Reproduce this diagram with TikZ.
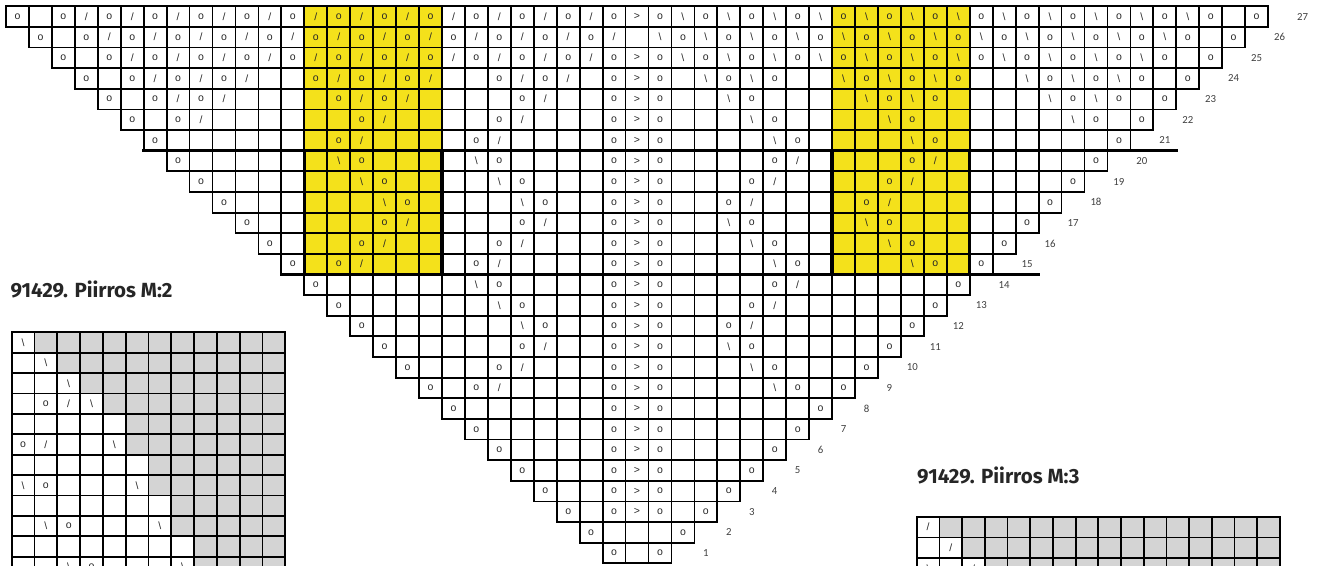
\documentclass[tikz,border=0pt]{standalone}
\usepackage{fontspec}
\setmainfont{Liberation Sans}
\newfontfamily\numfont{Carlito}
\newfontfamily\headfont{Fira Sans}
\usepackage{tikz}
\usepackage{xcolor}
\definecolor{motif}{RGB}{244,225,27}
\definecolor{unused}{RGB}{212,212,212}
\newcommand{\ktsym}{/}
\newcommand{\sksym}{\textbackslash}
% one stitch on the left half and its mirror on the right half
\newcommand{\stitchpair}[4]{%
  \pgfmathtruncatemacro{\kcol}{#2}%
  \pgfmathtruncatemacro{\kmir}{54-(#2)}%
  \node[sym] (k-#1-\kcol) at (\kcol+0.5,#1-0.5) {#3};
  \node[sym] (k-#1-\kmir) at (\kmir+0.5,#1-0.5) {#4};
}
\newcommand{\yover}[2]{\stitchpair{#1}{#2}{o}{o}}
\newcommand{\ktwotog}[2]{\stitchpair{#1}{#2}{\ktsym}{\sksym}}
\newcommand{\sskdec}[2]{\stitchpair{#1}{#2}{\sksym}{\ktsym}}
\tikzset{
  cell/.style      ={draw=black, line width=1.8pt},
  repeatline/.style={draw=black, line width=3.4pt, line cap=rect},
  sym/.style       ={font=\fontsize{10.5}{10.5}\selectfont, inner sep=0pt, text=black!85},
  rownum/.style    ={font=\numfont\fontsize{10.8}{10.8}\selectfont, inner sep=0pt, text=black!75},
  headline/.style  ={font=\headfont\bfseries\fontsize{20.5}{20.5}\selectfont, anchor=west, inner sep=0pt, text=black!85},
}

\begin{document}
\begin{tikzpicture}[x=22.945pt, y=20.63pt]
  \useasboundingbox (-0.2615,-0.082) rectangle (57.35,27.305);
  % yellow panels
  \fill[motif] (13,14) rectangle (19,27);
  \fill[motif] (36,14) rectangle (42,27);
  % triangle of cells, row r runs from column 27-r to 27+r
  \foreach \r [evaluate=\r as \a using int(27-\r), evaluate=\r as \b using int(27+\r)] in {1,...,27}
    \foreach \c in {\a,...,\b}
      \draw[cell] (\c,\r-1) rectangle ++(1,1);
  % repeat frame
  \draw[repeatline] (6,20) -- (51,20);
  \draw[repeatline] (12,14) -- (45,14);
  \foreach \x in {13,19,36,42} \draw[repeatline] (\x,14) -- (\x,20);
  % row numbers
  \foreach \r in {1,...,27} \node[rownum] (n\r) at (\r+29.5,\r-0.5) {\r};

  % rows 27-21
  \foreach \c in {0,2,...,26} {\yover{27}{\c}}
  \foreach \c in {3,5,...,25} {\ktwotog{27}{\c}}
  \foreach \c in {1,3,...,25} {\yover{26}{\c}}
  \foreach \c in {4,6,...,26} {\ktwotog{26}{\c}}
  \foreach \c in {2,4,...,26} {\yover{25}{\c}}
  \foreach \c in {5,7,...,25} {\ktwotog{25}{\c}}
  \foreach \c in {3,5,7,9,13,15,17,21,23,26} {\yover{24}{\c}}
  \foreach \c in {6,8,10,14,16,18,22,24} {\ktwotog{24}{\c}}
  \foreach \c in {4,6,8,14,16,22,26} {\yover{23}{\c}}
  \foreach \c in {7,9,15,17,23} {\ktwotog{23}{\c}}
  \foreach \c in {5,7,15,21,26} {\yover{22}{\c}}
  \foreach \c in {8,16,22} {\ktwotog{22}{\c}}
  \foreach \c in {6,14,20,26} {\yover{21}{\c}}
  \foreach \c in {15,21} {\ktwotog{21}{\c}}
  % rows 20-1: edges and centre
  \foreach \r [evaluate=\r as \e using int(27-\r)] in {1,...,20} {\yover{\r}{\e}}
  \foreach \r in {3,...,20} {\yover{\r}{26}}
  \foreach \r in {3,...,25,27} \node[sym] (k-\r-27) at (27.5,\r-0.5) {>};
  % diamonds
  \foreach \r/\c in {20/14,20/20,19/15,19/21,18/16,18/22,14/20,13/21,12/22}
    {\sskdec{\r}{\c} \yover{\r}{\c+1}}
  \foreach \r/\c in {17/16,17/22,16/15,16/21,15/14,15/20,11/22,10/21,9/20}
    {\yover{\r}{\c} \ktwotog{\r}{\c+1}}

  \begin{scope}
    \clip (-0.2615,-0.082) rectangle (57.35,27.305);
    % chart M:2
    \node[headline] (head2) at (0.19,13.296) {91429. Piirros M:2};
    \begin{scope}[shift={(0.248,11.197)}, x=22.8pt, y=20.4pt]
      \foreach \k/\w in {0/0,1/1,2/2,3/3,4/4,5/4,6/5,7/5,8/6,9/6,10/7,11/7}
        \fill[unused] (\w+1,-\k-1) rectangle (12,-\k);
      \foreach \k in {0,...,11} \foreach \c in {0,...,11}
        \draw[cell] (\c,-\k-1) rectangle ++(1,1);
      \foreach \k/\c/\t in {0/0/\sksym,1/1/\sksym,2/2/\sksym,3/1/o,3/2/\ktsym,3/3/\sksym,
          5/0/o,5/1/\ktsym,5/4/\sksym,7/0/\sksym,7/1/o,7/5/\sksym,
          9/1/\sksym,9/2/o,9/6/\sksym,11/2/\sksym,11/3/o,11/7/\sksym}
        \node[sym] (a-\k-\c) at (\c+0.5,-\k-0.5) {\t};
    \end{scope}
    % chart M:3
    \node[headline] (head3) at (39.70,4.256) {91429. Piirros M:3};
    \begin{scope}[shift={(39.69,2.259)}, x=22.7pt, y=20.7pt]
      \foreach \k/\w in {0/0,1/1,2/2}
        \fill[unused] (\w+1,-\k-1) rectangle (16,-\k);
      \foreach \k in {0,1,2} \foreach \c in {0,...,15}
        \draw[cell] (\c,-\k-1) rectangle ++(1,1);
      \foreach \k/\c/\t in {0/0/\ktsym,1/1/\ktsym,2/0/\sksym,2/2/\ktsym}
        \node[sym] (b-\k-\c) at (\c+0.5,-\k-0.5) {\t};
    \end{scope}
  \end{scope}
\end{tikzpicture}
\end{document}
